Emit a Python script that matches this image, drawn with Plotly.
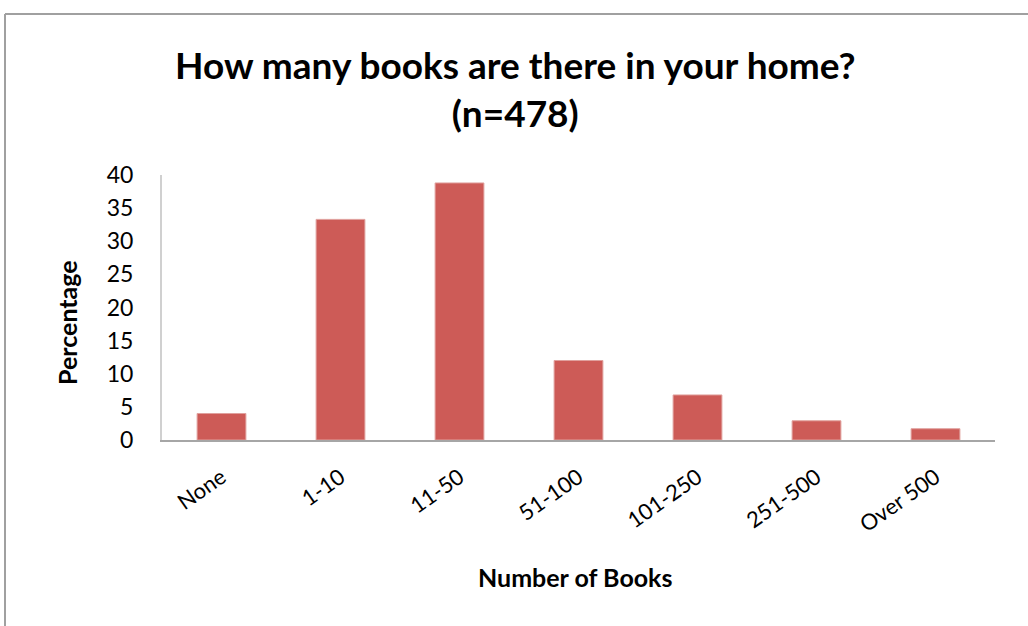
import plotly.graph_objects as go

categories = ["None", "1-10", "11-50", "51-100", "101-250", "251-500", "Over 500"]
percentages = [4.0, 33.3, 38.8, 12.0, 6.8, 2.9, 1.7]
y_ticks = [0, 5, 10, 15, 20, 25, 30, 35, 40]

W, H = 1028, 626
L, R, T, B = 162, 33, 175, 186
pw, ph = W - L - R, H - T - B

def px(x):
    return (x - L) / pw

def py(y):
    return (H - B - y) / ph

fig = go.Figure(go.Bar(
    x=categories, y=percentages,
    marker=dict(color="#CD5B57", line=dict(color="#E0A09D", width=1)),
    width=0.41,
))

font = "Lato, 'Open Sans', sans-serif"
fig.update_layout(
    width=W, height=H,
    margin=dict(l=L, r=R, t=T, b=B),
    plot_bgcolor="white", paper_bgcolor="white",
    font=dict(family=font, color="black"),
    xaxis=dict(
        showline=True, linecolor="#A6A6A6", linewidth=2, showgrid=False,
        tickangle=-35, tickfont=dict(size=22), ticks="", ticklabelstandoff=14,
    ),
    yaxis=dict(
        range=[0, 40], tickvals=y_ticks, showline=True, linecolor="#D0D0D0", linewidth=2,
        showgrid=False, zeroline=False, tickfont=dict(size=23), ticks="",
        ticklabelstandoff=22,
    ),
    showlegend=False,
    annotations=[
        dict(text="<b>How many books are there in your home?<br>(n=478)</b>",
             xref="paper", yref="paper", x=px(515), y=py(88),
             xanchor="center", yanchor="middle", showarrow=False,
             font=dict(size=37)),
        dict(text="<b>Number of Books</b>", xref="paper", yref="paper", x=px(575), y=py(577),
             xanchor="center", yanchor="middle", showarrow=False, font=dict(size=25)),
        dict(text="<b>Percentage</b>", xref="paper", yref="paper", x=px(67), y=py(323),
             xanchor="center", yanchor="middle", showarrow=False, textangle=-90,
             font=dict(size=25)),
    ],
    shapes=[
        dict(type="line", xref="paper", yref="paper", x0=px(5), x1=px(1030), y0=py(14), y1=py(14),
             line=dict(color="#A0A0A0", width=2)),
        dict(type="line", xref="paper", yref="paper", x0=px(5), x1=px(5), y0=py(14), y1=py(630),
             line=dict(color="#A0A0A0", width=2)),
    ],
)

fig.write_html("out.html", config={"displayModeBar": False},
               post_script="document.body.style.margin='0';")
